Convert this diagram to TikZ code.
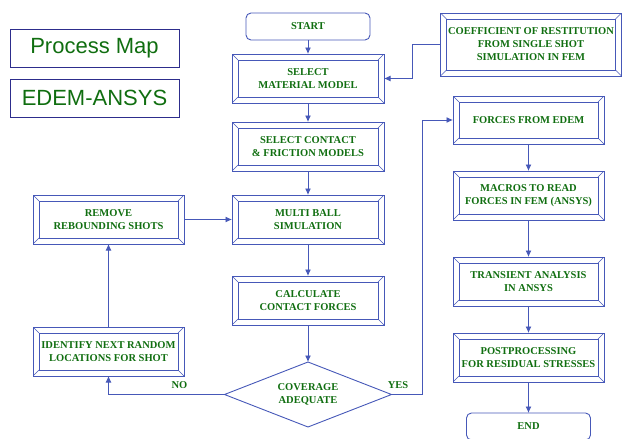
\documentclass[tikz,border=0pt]{standalone}
\usepackage{fontspec}
\setmainfont{Liberation Serif}
\newfontfamily\mapfont{Liberation Sans}
\usetikzlibrary{positioning}
\usetikzlibrary{shapes.geometric}
\usetikzlibrary{arrows.meta}
\definecolor{lineblue}{RGB}{70,88,184}
\definecolor{textgreen}{RGB}{16,110,16}
\definecolor{mapblue}{RGB}{45,45,140}
\tikzset{
  boxfont/.style={font=\bfseries\fontsize{10.5}{13}\selectfont},
  bevel/.style={draw=lineblue, line width=0.9pt, text=textgreen, align=center,
    boxfont, inner sep=1pt, outer sep=0pt, minimum width=152pt, minimum height=49pt,
    path picture={
      \draw[lineblue, line width=0.9pt]
        ([shift={(6pt,6pt)}]path picture bounding box.south west) rectangle
        ([shift={(-6pt,-6pt)}]path picture bounding box.north east);
      \foreach \c/\dx/\dy in {south west/1/1, south east/-1/1, north east/-1/-1, north west/1/-1}
        \draw[lineblue, line width=0.6pt] (path picture bounding box.\c) -- ++(\dx*6pt, \dy*6pt);
    }},
  term/.style={draw=lineblue, line width=0.9pt, text=textgreen, boxfont, outer sep=0pt,
    rounded corners=5pt, minimum width=124pt, minimum height=27pt},
  decide/.style={diamond, draw=lineblue, line width=0.9pt, text=textgreen, boxfont,
    align=center, inner sep=0pt, outer sep=0pt, aspect=2.57, minimum width=167pt, minimum height=65pt},
  mapbox/.style={draw=mapblue, line width=0.9pt, text=textgreen,
    font=\mapfont\fontsize{22}{26}\selectfont, minimum width=169pt, minimum height=38pt},
  flow/.style={draw=lineblue, line width=0.9pt, -{Latex[length=6.5pt,width=6pt]}},
  lbl/.style={text=textgreen, boxfont, inner sep=0pt}
}
\begin{document}
\begin{tikzpicture}[x=1pt, y=-1pt]
\useasboundingbox (0,0) rectangle (622,439);
% title boxes
\node[mapbox] (pmap) at (94.5,48) {Process Map};
\node[mapbox] (edem) at (94.5,98) {EDEM-ANSYS};
% middle column
\node[term] (start) at (308,26.5) {START};
\node[bevel, below=14pt of start] (mat) {SELECT\\MATERIAL MODEL};
\node[bevel, below=19pt of mat] (cont) {SELECT CONTACT\\\& FRICTION MODELS};
\node[bevel, below=24pt of cont] (multi) {MULTI BALL\\SIMULATION};
\node[bevel, below=32pt of multi] (calc) {CALCULATE\\CONTACT FORCES};
\node[decide, below=37pt of calc] (cov) {COVERAGE\\ADEQUATE};
% left column
\node[bevel, minimum width=151pt] (remove) at (108.5,219.5) {REMOVE\\REBOUNDING SHOTS};
\node[bevel, minimum width=151pt, below=83pt of remove] (ident) {IDENTIFY NEXT RANDOM\\LOCATIONS FOR SHOT};
% right column
\node[bevel, minimum width=181pt, minimum height=63pt] (coeff) at (531,44.5) {COEFFICIENT OF RESTITUTION\\FROM SINGLE SHOT\\SIMULATION IN FEM};
\node[bevel, minimum width=151pt, minimum height=48pt] (forces) at (528.5,120) {FORCES FROM EDEM};
\node[bevel, minimum width=151pt, below=27pt of forces] (macro) {MACROS TO READ\\FORCES IN FEM (ANSYS)};
\node[bevel, minimum width=151pt, below=37pt of macro] (trans) {TRANSIENT ANALYSIS\\IN ANSYS};
\node[bevel, minimum width=151pt, below=27pt of trans] (post) {POSTPROCESSING\\FOR RESIDUAL STRESSES};
\node[term, below=31pt of post] (end) {END};
% branch labels
\node[lbl] (no) at (179.5,385) {NO};
\node[lbl] (yes) at (398,385) {YES};
% bends
\coordinate (j1) at (412,78.5);
\coordinate (j2) at (422,395);
% connectors
\draw[flow] (start) -- (mat);
\draw[flow] (mat) -- (cont);
\draw[flow] (cont) -- (multi);
\draw[flow] (multi) -- (calc);
\draw[flow] (calc) -- (cov);
\draw[flow] (coeff.west) -| (j1 |- mat.east) -- (mat.east);
\draw[flow] (cov.west) -| (ident.south);
\draw[flow] (ident) -- (remove);
\draw[flow] (remove) -- (multi);
\draw[flow] (cov.east) -- (cov.east -| j2) |- (forces.west);
\draw[flow] (forces) -- (macro);
\draw[flow] (macro) -- (trans);
\draw[flow] (trans) -- (post);
\draw[flow] (post) -- (end);
\end{tikzpicture}
\end{document}
